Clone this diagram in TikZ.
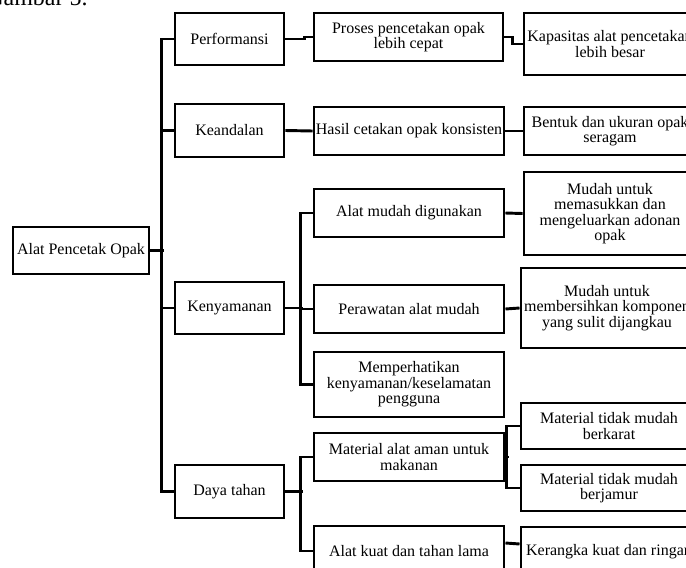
\documentclass[tikz,border=0pt]{standalone}
\usepackage{fontspec}
\setmainfont{Liberation Serif}

\begin{document}
\begin{tikzpicture}[x=0.75pt,y=-0.75pt,
	kotak/.style={draw,line width=2.2pt,fill=white,align=center,inner sep=1pt,font=\fontsize{12}{11.5}\selectfont},
	ukuran/.style 2 args={minimum width=#1*0.75pt,minimum height=#2*0.75pt},
	garis/.style={line width=2.2pt}]
	\useasboundingbox (0,0) rectangle (686,568);
	\node[anchor=base west,inner sep=0pt,font=\fontsize{18}{20}\selectfont] (judul) at (-14,5) {Gambar 5.};

	\node[kotak,ukuran={136}{47}] (root) at (81,250.5) {Alat Pencetak Opak};

	\node[kotak,ukuran={109}{52}] (perf) at (229.5,39) {Performansi};
	\node[kotak,ukuran={109}{53}] (kean) at (229.5,130.5) {Keandalan};
	\node[kotak,ukuran={109}{52}] (keny) at (229.5,308) {Kenyamanan};
	\node[kotak,ukuran={109}{53}] (daya) at (229.5,491.5) {Daya tahan};

	\node[kotak,ukuran={189}{48}] (proses) at (408.5,37) {Proses pencetakan opak\\lebih cepat};
	\node[kotak,ukuran={190}{48}] (hasil) at (409,131) {Hasil cetakan opak konsisten};
	\node[kotak,ukuran={190}{48}] (alatmudah) at (409,213) {Alat mudah digunakan};
	\node[kotak,ukuran={190}{48}] (rawat) at (409,309) {Perawatan alat mudah};
	\node[kotak,ukuran={190}{65}] (perhati) at (409,384.5) {Memperhatikan\\kenyamanan/keselamatan\\pengguna};
	\node[kotak,ukuran={190}{48}] (material) at (409,457) {Material alat aman untuk\\makanan};
	\node[kotak,ukuran={190}{50}] (kuat) at (409,551) {Alat kuat dan tahan lama};

	\node[kotak,ukuran={172}{62}] (kapasitas) at (610,44) {Kapasitas alat pencetakan\\lebih besar};
	\node[kotak,ukuran={172}{48}] (bentuk) at (610,131) {Bentuk dan ukuran opak\\seragam};
	\node[kotak,ukuran={172}{83}] (masuk) at (610,213.5) {Mudah untuk\\memasukkan dan\\mengeluarkan adonan\\opak};
	\node[kotak,ukuran={172}{80}] (bersih) at (607,308) {Mudah untuk\\membersihkan komponen\\yang sulit dijangkau};
	\node[kotak,ukuran={176}{46}] (karat) at (609,426) {Material tidak mudah\\berkarat};
	\node[kotak,ukuran={176}{46}] (jamur) at (609,488) {Material tidak mudah\\berjamur};
	\node[kotak,ukuran={176}{50}] (rangka) at (609,552) {Kerangka kuat dan ringan};

	\draw[garis] (root.east) -- ++(14,0);
	\draw[garis] (perf.west) -- ++(-12,0) |- (daya.west);
	\draw[garis] (kean.west) -- ++(-12,0);
	\draw[garis] (keny.west) -- ++(-12,0);

	\draw[garis] (perf.east) -- ++(19,0) |- (proses.west);
	\draw[garis] (kean.east) -- (hasil.west);
	\draw[garis] (keny.east) -- ++(18,0);
	\draw[garis] (alatmudah.west) -- ++(-12,0) |- (perhati.west);
	\draw[garis] (rawat.west) -- ++(-12,0);
	\draw[garis] (daya.east) -- ++(18,0);
	\draw[garis] (material.west) -- ++(-12,0) |- (kuat.west);

	\draw[garis] (proses.east) -- ++(8,0) |- (kapasitas.west);
	\draw[garis] (hasil.east) -- (bentuk.west);
	\draw[garis] (alatmudah.east) -- (masuk.west);
	\draw[garis] (rawat.east) -- (bersih.west);
	\draw[garis] (material.east) -- ++(4,0);
	\draw[garis] (karat.west) -- ++(-13,0) |- (jamur.west);
	\draw[garis] ([yshift=6pt]kuat.east) -- ([yshift=6pt]rangka.west);
\end{tikzpicture}
\end{document}
